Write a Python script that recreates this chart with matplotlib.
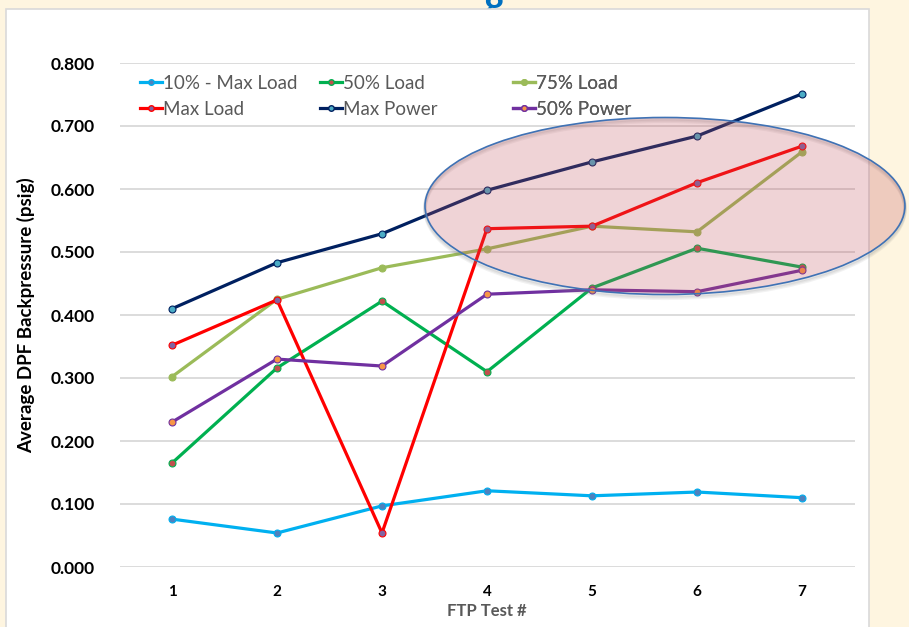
import matplotlib
matplotlib.use("Agg")
import matplotlib.pyplot as plt
from matplotlib.lines import Line2D
from matplotlib.patches import Ellipse, Rectangle

plt.rcParams["font.family"] = ["Lato", "DejaVu Sans"]

tests = [1, 2, 3, 4, 5, 6, 7]
series_names = ["10% - Max Load", "50% Load", "75% Load",
                "Max Load", "Max Power", "50% Power"]
load_10 = [0.076, 0.054, 0.097, 0.121, 0.113, 0.119, 0.110]
load_50 = [0.165, 0.316, 0.422, 0.310, 0.443, 0.506, 0.476]
load_75 = [0.302, 0.425, 0.475, 0.505, 0.541, 0.532, 0.659]
max_load = [0.352, 0.424, 0.054, 0.537, 0.541, 0.610, 0.668]
max_power = [0.410, 0.483, 0.529, 0.598, 0.643, 0.684, 0.751]
power_50 = [0.230, 0.330, 0.319, 0.433, 0.440, 0.437, 0.471]
y_ticks = [0.0, 0.1, 0.2, 0.3, 0.4, 0.5, 0.6, 0.7, 0.8]

line_colors = ["#00B0F0", "#00B050", "#9BBB59", "#FF0000", "#002060", "#7030A0"]
marker_colors = ["#4F81BD", "#C0504D", "#9BBB59", "#8064A2", "#4BACC6", "#F79646"]

fig = plt.figure(figsize=(9.09, 6.27), dpi=100)
fig.patch.set_facecolor("#FEF5E0")

# slide title peeking out behind the chart box
fig.text(0.545, 0.975, "g", color="#0070C0", fontsize=30, fontweight="bold",
         ha="center", va="baseline", zorder=-3)
fig.patches.append(Rectangle((6 / 909, -0.01), 863 / 909, 1 - 9 / 627 + 0.01,
                             transform=fig.transFigure, facecolor="white",
                             edgecolor="#D9D9D9", linewidth=1.2, zorder=-2))

ax = fig.add_axes([119.5 / 909, 60 / 627, 735 / 909, 504 / 627])
ax.set_facecolor("none")

all_series = [load_10, load_50, load_75, max_load, max_power, power_50]
handles = []
for name, vals, lc, mc in zip(series_names, all_series, line_colors, marker_colors):
    h, = ax.plot(tests, vals, color=lc, lw=2.3, marker="o", ms=5,
                 markerfacecolor=mc, markeredgecolor=lc, markeredgewidth=0.8,
                 label=name, zorder=3)
    handles.append(h)

# highlight region around tests 4-7, with a soft shadow underneath
ell_c, ell_w, ell_h = (5.695, 0.573), 4.571, 0.281
for k, a in [(0.006, 0.10), (0.004, 0.10), (0.002, 0.12)]:
    ax.add_patch(Ellipse((ell_c[0], ell_c[1] - k), ell_w, ell_h, facecolor="none",
                         edgecolor="#808080", alpha=a, lw=2.5, clip_on=False,
                         zorder=3.5))
ax.add_patch(Ellipse(ell_c, ell_w, ell_h, facecolor="#C2505C",
                     alpha=0.25, edgecolor="none", clip_on=False, zorder=4))
ax.add_patch(Ellipse(ell_c, ell_w, ell_h, facecolor="none",
                     edgecolor="#3F72B5", lw=1.2, clip_on=False, zorder=5))

ax.set_xlim(0.5, 7.5)
ax.set_ylim(0, 0.8)
ax.set_xticks(tests)
ax.set_yticks(y_ticks)
ax.set_yticklabels([f"{v:.3f}" for v in y_ticks])
ax.grid(axis="y", color="#D9D9D9", lw=1.3, zorder=0)
ax.set_axisbelow(True)
for s in ax.spines.values():
    s.set_visible(False)
ax.tick_params(length=0)
ax.tick_params(axis="y", pad=18, labelsize=12.5)
ax.tick_params(axis="x", pad=13, labelsize=11)
for lab in ax.get_xticklabels() + ax.get_yticklabels():
    lab.set_fontweight("bold")

ax.set_ylabel("Average DPF Backpressure (psig)", fontsize=13.5, fontweight="bold",
              labelpad=11)
ax.set_xlabel("FTP Test #", fontsize=12, fontweight="bold", color="#595959",
              labelpad=3)

# three legend columns, two entries each
col_x = [(140 - 119.5) / 735, (320 - 119.5) / 735, (513 - 119.5) / 735]
for i, cx in enumerate(col_x):
    pair = [handles[i], handles[i + 3]]
    proxies = [Line2D([], [], color=h.get_color(), lw=2.3, marker="o", ms=4,
                      markerfacecolor=h.get_markerfacecolor(),
                      markeredgecolor=h.get_color()) for h in pair]
    leg = ax.legend(proxies, [h.get_label() for h in pair], loc="upper left",
                    bbox_to_anchor=(cx, 0.977), frameon=False, fontsize=13.5,
                    handlelength=1.15, handletextpad=0.1, labelspacing=0.5,
                    borderpad=0, borderaxespad=0, labelcolor="#595959")
    ax.add_artist(leg)

fig.savefig("out.png", dpi=100, facecolor=fig.get_facecolor())
